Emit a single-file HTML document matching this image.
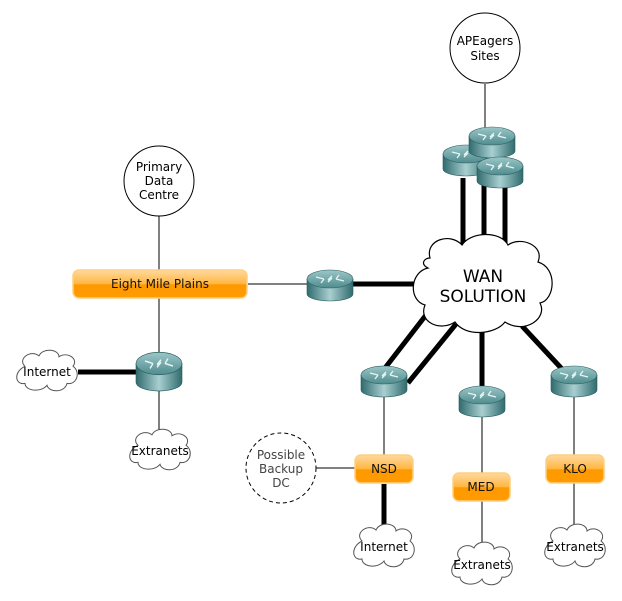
<!DOCTYPE html>
<html><head><meta charset="utf-8"><style>
html,body{margin:0;padding:0;background:#fff;}
svg{display:block;font-family:"DejaVu Sans","Liberation Sans",sans-serif;}
</style></head><body>
<svg width="622" height="601" viewBox="0 0 622 601" xmlns="http://www.w3.org/2000/svg">
<defs>
<linearGradient id="rb" x1="0" x2="1" y1="0" y2="0">
<stop offset="0" stop-color="#2f6b6e"/><stop offset="0.5" stop-color="#a9cfd0"/><stop offset="1" stop-color="#2f6b6e"/>
</linearGradient>
<linearGradient id="rt" x1="0" x2="0" y1="0" y2="1">
<stop offset="0" stop-color="#9cc7c8"/><stop offset="1" stop-color="#4f8c8e"/>
</linearGradient>
<linearGradient id="ob" x1="0" x2="0" y1="0" y2="1">
<stop offset="0" stop-color="#ffd9a0"/><stop offset="0.5" stop-color="#ffb640"/><stop offset="0.52" stop-color="#ff9900"/><stop offset="1" stop-color="#ff9a00"/>
</linearGradient>
<g id="router">
<path d="M-23,-6 v15 a23,7 0 0 0 46,0 v-15 z" fill="url(#rb)" stroke="#2c5c5e" stroke-width="0.6"/>
<ellipse cx="0" cy="-6" rx="23" ry="9" fill="url(#rt)" stroke="#2c5c5e" stroke-width="0.6"/>
<path d="M-14,-8 l8,2 M-6,-6 l-3,4 M14,-4 l-8,-2 M6,-6 l3,-4 M2,-7 l-4,4 M-2,-5 l4,-4" stroke="#e8f4f4" stroke-width="1.3" fill="none"/>
</g>
<path id="cloud" d="M-22,-6 C-30,-14 -16,-24 -8,-17 C-4,-26 12,-24 12,-16 C20,-22 32,-14 26,-6 C34,0 30,14 20,12 C18,22 2,22 0,14 C-6,22 -22,20 -22,12 C-32,14 -34,0 -22,-6 Z" fill="#fff" stroke="#555" stroke-width="1"/>
</defs>

<g stroke="#000" stroke-width="1" fill="none">
<line x1="485" y1="84" x2="485" y2="130"/>
<line x1="159" y1="216" x2="159" y2="270"/>
<line x1="159" y1="298" x2="159" y2="358"/>
<line x1="159" y1="386" x2="159" y2="435"/>
<line x1="248" y1="284" x2="308" y2="284"/>
<line x1="384" y1="392" x2="384" y2="455"/>
<line x1="316" y1="468" x2="355" y2="468"/>
<line x1="482" y1="412" x2="482" y2="473"/>
<line x1="482" y1="501" x2="482" y2="545"/>
<line x1="574" y1="392" x2="574" y2="455"/>
<line x1="574" y1="483" x2="574" y2="527"/>
</g>
<g stroke="#000" stroke-width="5" fill="none">
<line x1="463" y1="178" x2="463" y2="246"/>
<line x1="484" y1="184" x2="484" y2="240"/>
<line x1="505" y1="186" x2="505" y2="248"/>
<line x1="353" y1="284" x2="418" y2="284"/>
<line x1="426" y1="315" x2="385" y2="368"/>
<line x1="456" y1="324" x2="408" y2="383"/>
<line x1="482" y1="330" x2="482" y2="386"/>
<line x1="522" y1="326" x2="562" y2="369"/>
<line x1="78" y1="372" x2="137" y2="372"/>
<line x1="384" y1="484" x2="384" y2="527"/>
</g>

<circle cx="485" cy="48" r="35" fill="#fff" stroke="#000"/>
<text x="485" y="45" font-size="12" text-anchor="middle">APEagers</text>
<text x="485" y="60" font-size="12" text-anchor="middle">Sites</text>
<circle cx="159" cy="181" r="35" fill="#fff" stroke="#000"/>
<text x="159" y="171" font-size="12" text-anchor="middle">Primary</text>
<text x="159" y="185" font-size="12" text-anchor="middle">Data</text>
<text x="159" y="199" font-size="12" text-anchor="middle">Centre</text>
<circle cx="281" cy="468" r="35" fill="#fff" stroke="#000" stroke-dasharray="4,3"/>
<text x="281" y="459" font-size="12" fill="#444" text-anchor="middle">Possible</text>
<text x="281" y="473" font-size="12" fill="#444" text-anchor="middle">Backup</text>
<text x="281" y="487" font-size="12" fill="#444" text-anchor="middle">DC</text>

<path d="M430,258 C425,240 450,232 462,245 C470,232 500,230 508,245 C520,236 545,245 538,262 C558,268 555,300 540,303 C548,318 525,335 505,322 C495,335 465,337 455,322 C440,332 418,322 425,305 C408,300 410,272 428,268 C420,264 424,258 430,258 Z" fill="#fff" stroke="#000" stroke-width="1.2"/>
<text x="483" y="282" font-size="17" text-anchor="middle">WAN</text>
<text x="483" y="302" font-size="17" text-anchor="middle">SOLUTION</text>

<use href="#router" x="466" y="160"/>
<use href="#router" x="492" y="142"/>
<use href="#router" x="500" y="172"/>
<use href="#router" x="330" y="285"/>
<use href="#router" x="384" y="381"/>
<use href="#router" x="482" y="401"/>
<use href="#router" x="574" y="381"/>
<g transform="translate(159,371) scale(1,1.25)"><use href="#router"/></g>

<use href="#cloud" transform="translate(47,372) scale(1,0.95)"/>
<text x="47" y="376" font-size="12" text-anchor="middle">Internet</text>
<use href="#cloud" transform="translate(160,451) scale(1,0.95)"/>
<text x="160" y="455" font-size="12" text-anchor="middle">Extranets</text>
<use href="#cloud" transform="translate(384,547)"/>
<text x="384" y="551" font-size="12" text-anchor="middle">Internet</text>
<use href="#cloud" transform="translate(482,565)"/>
<text x="482" y="569" font-size="12" text-anchor="middle">Extranets</text>
<use href="#cloud" transform="translate(575,547)"/>
<text x="575" y="551" font-size="12" text-anchor="middle">Extranets</text>

<g stroke="#ffcf80" stroke-width="1.5">
<rect x="73" y="270" width="174" height="28" rx="6" fill="url(#ob)"/>
<rect x="355" y="455" width="58" height="28" rx="6" fill="url(#ob)"/>
<rect x="453" y="473" width="57" height="28" rx="6" fill="url(#ob)"/>
<rect x="546" y="455" width="58" height="28" rx="6" fill="url(#ob)"/>
</g>
<g font-size="12" text-anchor="middle" fill="#111">
<text x="160" y="288">Eight Mile Plains</text>
<text x="384" y="473">NSD</text>
<text x="481" y="491">MED</text>
<text x="575" y="473">KLO</text>
</g>
</svg>
</body></html>
